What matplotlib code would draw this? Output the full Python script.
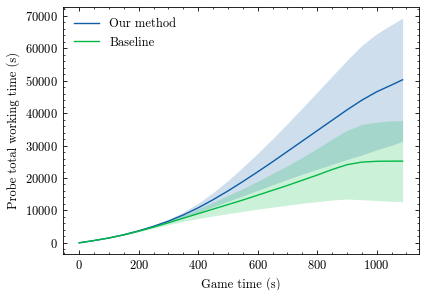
import numpy as np
import matplotlib
matplotlib.use("Agg")
import matplotlib.pyplot as plt

# game time (s)
game_time = [0, 50, 100, 150, 200, 250, 300, 350, 400, 450, 500, 550,
             600, 650, 700, 750, 800, 850, 900, 950, 1000, 1050, 1087]

# our method: mean and std of probe total working time (s)
ours_mean = [0, 700, 1500, 2500, 3700, 5100, 6700, 8600, 10800, 13300, 16000, 18900,
             21900, 25000, 28200, 31400, 34600, 37800, 41000, 44000, 46600, 48700, 50300]
ours_std = [0, 20, 50, 100, 170, 300, 500, 900, 1400, 2200, 3200, 4400,
            5700, 7100, 8600, 10200, 11900, 13600, 15300, 16900, 17900, 18600, 19000]

# baseline
base_mean = [0, 700, 1500, 2450, 3600, 4850, 6200, 7600, 9000, 10400, 11800, 13200,
             14700, 16200, 17700, 19300, 20900, 22600, 24100, 24900, 25150, 25200, 25200]
base_std = [0, 20, 50, 100, 200, 350, 600, 1000, 1500, 2100, 2800, 3500,
            4300, 5200, 6100, 7100, 8200, 9400, 10600, 11600, 12100, 12400, 12500]

plt.rcParams.update({
    "font.family": "serif",
    "font.serif": ["cmr10", "DejaVu Serif"],
    "mathtext.fontset": "cm",
    "axes.formatter.use_mathtext": True,
    "font.size": 9,
    "axes.linewidth": 0.6,
    "xtick.direction": "in",
    "ytick.direction": "in",
    "xtick.top": True,
    "ytick.right": True,
    "xtick.minor.visible": True,
    "ytick.minor.visible": True,
    "xtick.major.size": 3,
    "ytick.major.size": 3,
    "xtick.minor.size": 1.5,
    "ytick.minor.size": 1.5,
    "xtick.major.width": 0.6,
    "ytick.major.width": 0.6,
    "xtick.minor.width": 0.5,
    "ytick.minor.width": 0.5,
})

t = np.array(game_time)
m1, s1 = np.array(ours_mean), np.array(ours_std)
m2, s2 = np.array(base_mean), np.array(base_std)

fig = plt.figure(figsize=(4.26, 2.9), dpi=100)
ax = fig.add_axes([0.148, 0.124, 0.835, 0.852])

ax.plot(t, m1, color="#0C5DA5", lw=1.0, label="Our method")
ax.fill_between(t, m1 - s1, m1 + s1, color="#0C5DA5", alpha=0.2, lw=0)
ax.plot(t, m2, color="#00B945", lw=1.0, label="Baseline")
ax.fill_between(t, m2 - s2, m2 + s2, color="#00B945", alpha=0.2, lw=0)

ax.set_xlabel("Game time (s)")
ax.set_ylabel("Probe total working time (s)")
ax.legend(loc="upper left", frameon=False)

fig.savefig("out.png", dpi=100)
